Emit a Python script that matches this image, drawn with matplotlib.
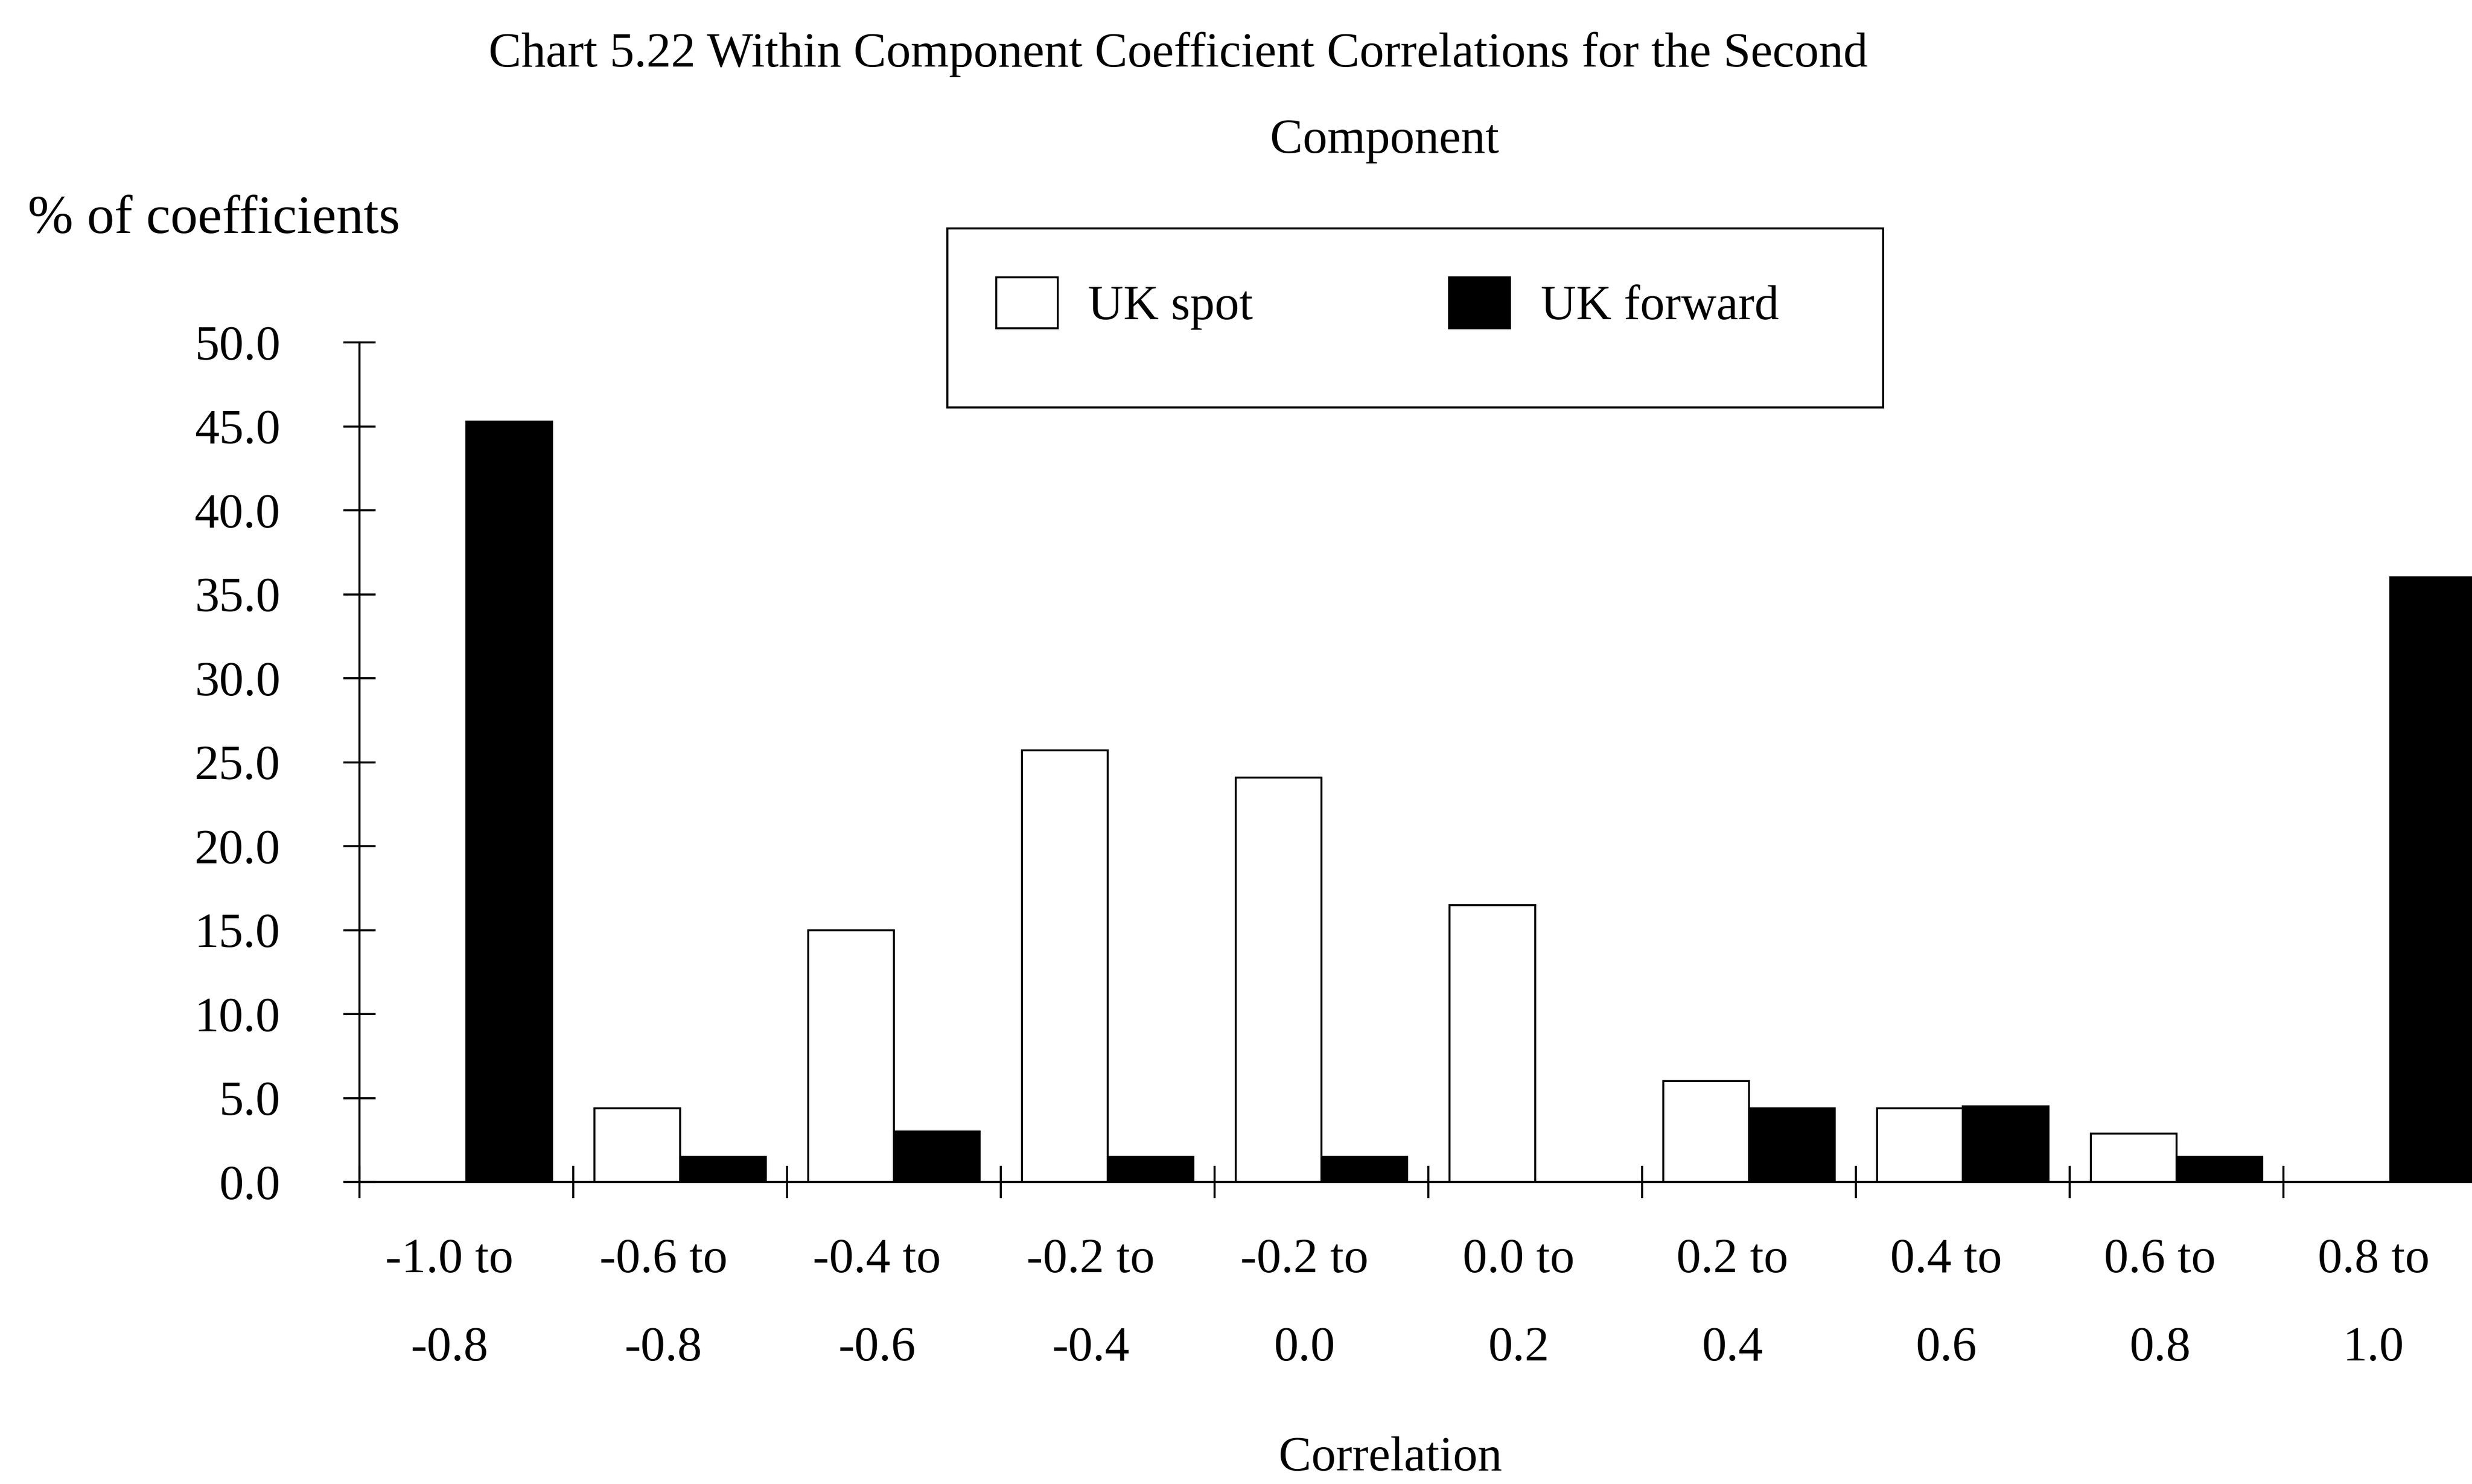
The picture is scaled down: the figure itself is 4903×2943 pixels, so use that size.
import matplotlib
matplotlib.use("Agg")
import matplotlib.pyplot as plt
import numpy as np
from matplotlib.patches import Rectangle
from matplotlib.transforms import ScaledTranslation

# correlation bins
categories = ["-1.0 to\n-0.8", "-0.6 to\n-0.8", "-0.4 to\n-0.6", "-0.2 to\n-0.4",
              "-0.2 to\n0.0", "0.0 to\n0.2", "0.2 to\n0.4", "0.4 to\n0.6",
              "0.6 to\n0.8", "0.8 to\n1.0"]

# % of coefficients
uk_spot = [0.0, 4.4, 15.0, 25.7, 24.1, 16.5, 6.0, 4.4, 2.9, 0.0]
uk_forward = [45.3, 1.5, 3.0, 1.5, 1.5, 0.0, 4.4, 4.5, 1.5, 36.0]

y_ticks = [0, 5, 10, 15, 20, 25, 30, 35, 40, 45, 50]

plt.rcParams['font.family'] = ['Liberation Serif', 'DejaVu Serif']
plt.rcParams['font.size'] = 70

fig = plt.figure(figsize=(49.03, 29.43), dpi=100)
ax = fig.add_axes([0.1454, 0.2035, 0.8648, 0.5657])

x = np.arange(len(categories)) + 0.5
w = 0.4
lw = 2.8
ax.bar(x - w / 2, uk_spot, w, color='white', edgecolor='black', linewidth=lw,
       label='UK spot')
ax.bar(x + w / 2, uk_forward, w, color='black', edgecolor='black', linewidth=lw,
       label='UK forward')

ax.set_xlim(0, len(categories))
ax.set_ylim(0, 50)

ax.set_yticks(y_ticks)
ax.set_yticklabels([f"{v:.1f}" for v in y_ticks])
ax.tick_params(axis='y', direction='inout', length=46, width=3, pad=90)

ax.set_xticks(np.arange(len(categories) + 1))
ax.set_xticklabels([])
ax.set_xticks(x, minor=True)
ax.set_xticklabels(categories, minor=True, linespacing=2.28)
ax.tick_params(axis='x', which='major', direction='inout', length=46, width=3)
ax.tick_params(axis='x', which='minor', length=0, pad=80)
# labels sit a little left of the group centres in the original
shift = ScaledTranslation(-24 / 72, 0, fig.dpi_scale_trans)
for lab in ax.get_xticklabels(minor=True):
    lab.set_transform(lab.get_transform() + shift)

for s in ['top', 'right']:
    ax.spines[s].set_visible(False)
for s in ['left', 'bottom']:
    ax.spines[s].set_linewidth(3)

# legend box
leg = ax.legend(loc='upper left', bbox_to_anchor=(0.275, 1.136), ncol=2,
                frameon=False, borderaxespad=0, borderpad=1.0,
                handlelength=1.25, handleheight=1.22, handletextpad=0.62,
                columnspacing=4.0)
ax.add_patch(Rectangle((0.275, 0.9228), 0.4377, 0.2132, transform=ax.transAxes,
                       fill=False, edgecolor='black', linewidth=3, clip_on=False))

fig.text(0.4767, 0.955, "Chart 5.22 Within Component Coefficient Correlations for the Second",
         ha='center', va='baseline')
fig.text(0.560, 0.897, "Component", ha='center', va='baseline')
fig.text(0.0112, 0.843, "% of coefficients", ha='left', va='baseline', fontsize=78)
fig.text(0.5625, 0.017, "Correlation", ha='center', va='center')

fig.savefig("out.png", dpi=100)
